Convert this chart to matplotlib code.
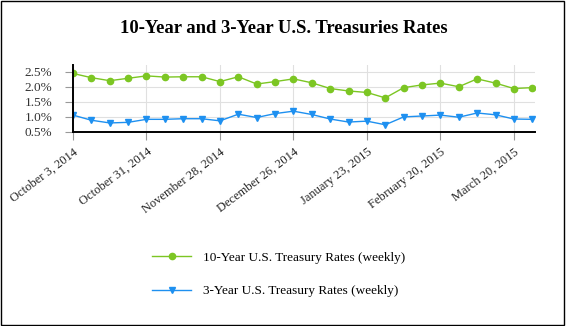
import numpy as np
import pandas as pd
import matplotlib
matplotlib.use('Agg')
import matplotlib.pyplot as plt
from matplotlib.ticker import FuncFormatter

# weekly observations, Oct 3 2014 .. Mar 27 2015
dates = pd.date_range('2014-10-03', periods=26, freq='7D')
rate_10y = [2.44, 2.30, 2.20, 2.28, 2.36, 2.32, 2.33, 2.33, 2.17, 2.33, 2.09, 2.17, 2.26,
            2.13, 1.94, 1.86, 1.81, 1.63, 1.97, 2.06, 2.12, 2.00, 2.26, 2.12, 1.94, 1.97]
rate_3y = [1.06, 0.89, 0.80, 0.82, 0.92, 0.92, 0.94, 0.94, 0.87, 1.09, 0.98, 1.11, 1.19,
           1.08, 0.93, 0.83, 0.86, 0.74, 1.00, 1.03, 1.06, 0.99, 1.13, 1.07, 0.93, 0.92]
yticks = [0.5, 1.0, 1.5, 2.0, 2.5]
label_10y = '10-Year U.S. Treasury Rates (weekly)'
label_3y = '3-Year U.S. Treasury Rates (weekly)'

green = '#7CC623'
blue = '#1E90F0'

plt.rcParams['font.family'] = ['Liberation Serif', 'DejaVu Serif']

fig = plt.figure(figsize=(5.66, 3.26), dpi=100)
ax = fig.add_axes([73/566, 1-132/326, 462/566, 67/326])

x = np.arange(len(dates))
l1, = ax.plot(x, rate_10y, color=green, lw=1.0, marker='o', ms=4.5, label=label_10y)
l2, = ax.plot(x, rate_3y, color=blue, lw=1.0, marker='v', ms=5, label=label_3y)

ax.set_xlim(0, len(dates) - 0.85)
ax.set_ylim(0.5, 2.72)
ax.set_yticks(yticks)
ax.yaxis.set_major_formatter(FuncFormatter(lambda v, p: '%.1f%%' % v))

tick_idx = x[::4]
ax.set_xticks(tick_idx)
ax.set_xticklabels(['%s %d, %d' % (dates[i].strftime('%B'), dates[i].day, dates[i].year)
                    for i in tick_idx], rotation=37, ha='right', rotation_mode='anchor')

ax.grid(True, color='#e0e0e0', lw=0.8)
ax.set_axisbelow(True)
for s in ['top', 'right']:
    ax.spines[s].set_visible(False)
for s in ['left', 'bottom']:
    ax.spines[s].set_linewidth(1.4)
ax.tick_params(axis='x', length=6, color='#999999', labelsize=9, pad=4, labelcolor='#222222')
ax.tick_params(axis='y', length=6, color='#999999', labelsize=9.5, pad=9, labelcolor='#333333')

fig.text(284/566, 1-28.5/326, '10-Year and 3-Year U.S. Treasuries Rates', ha='center', va='center',
         fontsize=13.4, fontweight='bold')

fig.legend(handles=[l1, l2], loc='upper left', bbox_to_anchor=(140/566, 1-240/326),
           frameon=False, fontsize=9.5, handlelength=3.0, labelspacing=1.6, handletextpad=0.85)

# outer border
fig.patches.append(plt.Rectangle((0.002, 0.003), 0.995, 0.994, transform=fig.transFigure,
                                 fill=False, edgecolor='black', lw=1.0))

fig.savefig('out.png', dpi=100)
